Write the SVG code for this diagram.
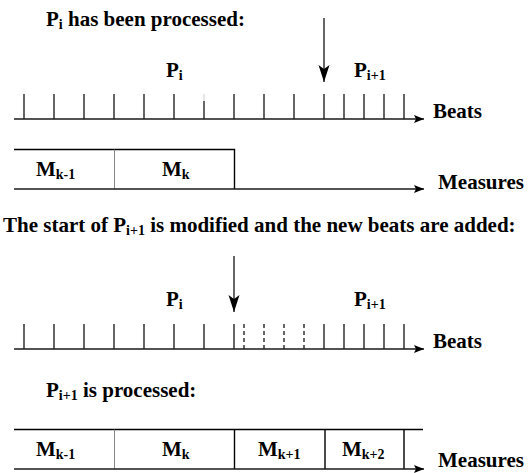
<svg xmlns="http://www.w3.org/2000/svg" width="528" height="473" viewBox="0 0 528 473">
  <style>
    text { font-family: "Liberation Serif", "Times New Roman", serif; font-weight: bold; fill: #000; }
    .t { font-size: 21px; }
    .lbl { font-size: 21px; }
    .sub { font-size: 14px; }
    .axis { stroke: #1a1a1a; stroke-width: 1.6; fill: none; }
    .tick { stroke: #000; stroke-width: 1.2; }
    .dash { stroke: #000; stroke-width: 1.2; stroke-dasharray: 4 3; }
    .edge { stroke: #000; stroke-width: 1.4; fill: none; }
    .thin { stroke: #888; stroke-width: 1; }
    .ptr { stroke: #000; stroke-width: 1.2; fill: none; }
  </style>
  <defs>
    <marker id="axisHead" markerUnits="userSpaceOnUse" markerWidth="11" markerHeight="9" refX="10" refY="4" orient="auto">
      <path d="M0,0 L10,4 L0,8 L2,4 Z" fill="#000"/>
    </marker>
    <marker id="ptrHead" markerUnits="userSpaceOnUse" markerWidth="18" markerHeight="12" refX="17" refY="5.5" orient="auto">
      <path d="M0,0 L17,5.5 L0,11 L4,5.5 Z" fill="#000"/>
    </marker>
  </defs>

  <!-- Section 1: Pi has been processed -->
  <g id="title1">
    <text class="t" x="46" y="26">P<tspan class="sub" dy="3">i</tspan><tspan dy="-3"> has been processed:</tspan></text>
  </g>
  <g id="labels1">
    <text class="lbl" x="166" y="77">P<tspan class="sub" dy="3">i</tspan></text>
    <text class="lbl" x="354" y="77">P<tspan class="sub" dy="3">i+1</tspan></text>
  </g>
  <g id="beats1">
    <path class="tick" d="M24,94V119 M54,94V119 M84,94V119 M114,94V119 M144,94V119 M174,94V119 M234,94V119 M264,94V119 M294,94V119 M324,94V119 M344,94V119 M364,94V119 M384,94V119 M404,94V119"/>
    <path d="M204,94V101" stroke="#ccc" stroke-width="1"/>
    <path class="tick" d="M204,101V119"/>
    <text class="t" x="433" y="118">Beats</text>
  </g>
  <g id="measures1">
    <path class="edge" d="M14,149.5H234.5V189"/>
    <path class="thin" d="M114.5,149.5V189"/>
    <text class="lbl" x="36" y="176">M<tspan class="sub" dy="3">k-1</tspan></text>
    <text class="lbl" x="162" y="176">M<tspan class="sub" dy="3">k</tspan></text>
    <text class="t" x="438" y="189">Measures</text>
  </g>

  <!-- Section 2: start of Pi+1 modified -->
  <g id="title2">
    <text class="t" x="3" y="232">The start of P<tspan class="sub" dy="3">i+1</tspan><tspan dy="-3"> is modified and the new beats are added:</tspan></text>
  </g>
  <g id="labels2">
    <text class="lbl" x="166" y="306">P<tspan class="sub" dy="3">i</tspan></text>
    <text class="lbl" x="354" y="306">P<tspan class="sub" dy="3">i+1</tspan></text>
  </g>
  <g id="beats2">
    <path class="tick" d="M24,324V349 M54,324V349 M84,324V349 M114,324V349 M144,324V349 M174,324V349 M204,324V349 M234,324V349 M324,324V349 M344,324V349 M364,324V349 M384,324V349 M404,324V349"/>
    <path class="dash" d="M244,324V349 M264,324V349 M284,324V349 M304,324V349"/>
    <text class="t" x="433" y="348">Beats</text>
  </g>

  <!-- Section 3: Pi+1 is processed -->
  <g id="title3">
    <text class="t" x="46" y="397">P<tspan class="sub" dy="3">i+1</tspan><tspan dy="-3"> is processed:</tspan></text>
  </g>
  <g id="measures3">
    <path class="edge" d="M14,429.5H423"/>
    <path class="thin" d="M114.5,429.5V469"/>
    <path class="edge" d="M234.5,429.5V469 M325,429.5V469 M404,429.5V469"/>
    <text class="lbl" x="36" y="456">M<tspan class="sub" dy="3">k-1</tspan></text>
    <text class="lbl" x="162" y="456">M<tspan class="sub" dy="3">k</tspan></text>
    <text class="lbl" x="258" y="456">M<tspan class="sub" dy="3">k+1</tspan></text>
    <text class="lbl" x="342" y="456">M<tspan class="sub" dy="3">k+2</tspan></text>
    <text class="t" x="438" y="467">Measures</text>
  </g>

  <!-- Axes and pointer arrows -->
  <g id="connectors">
    <line class="axis" x1="14" y1="119" x2="424" y2="119" marker-end="url(#axisHead)"/>
    <line class="axis" x1="14" y1="189" x2="424" y2="189" marker-end="url(#axisHead)"/>
    <line class="axis" x1="14" y1="349" x2="424" y2="349" marker-end="url(#axisHead)"/>
    <line class="axis" x1="14" y1="469" x2="424" y2="469" marker-end="url(#axisHead)"/>
    <line class="ptr" x1="324" y1="18" x2="324" y2="82" marker-end="url(#ptrHead)"/>
    <line class="ptr" x1="234" y1="256" x2="234" y2="312" marker-end="url(#ptrHead)"/>
  </g>
</svg>
